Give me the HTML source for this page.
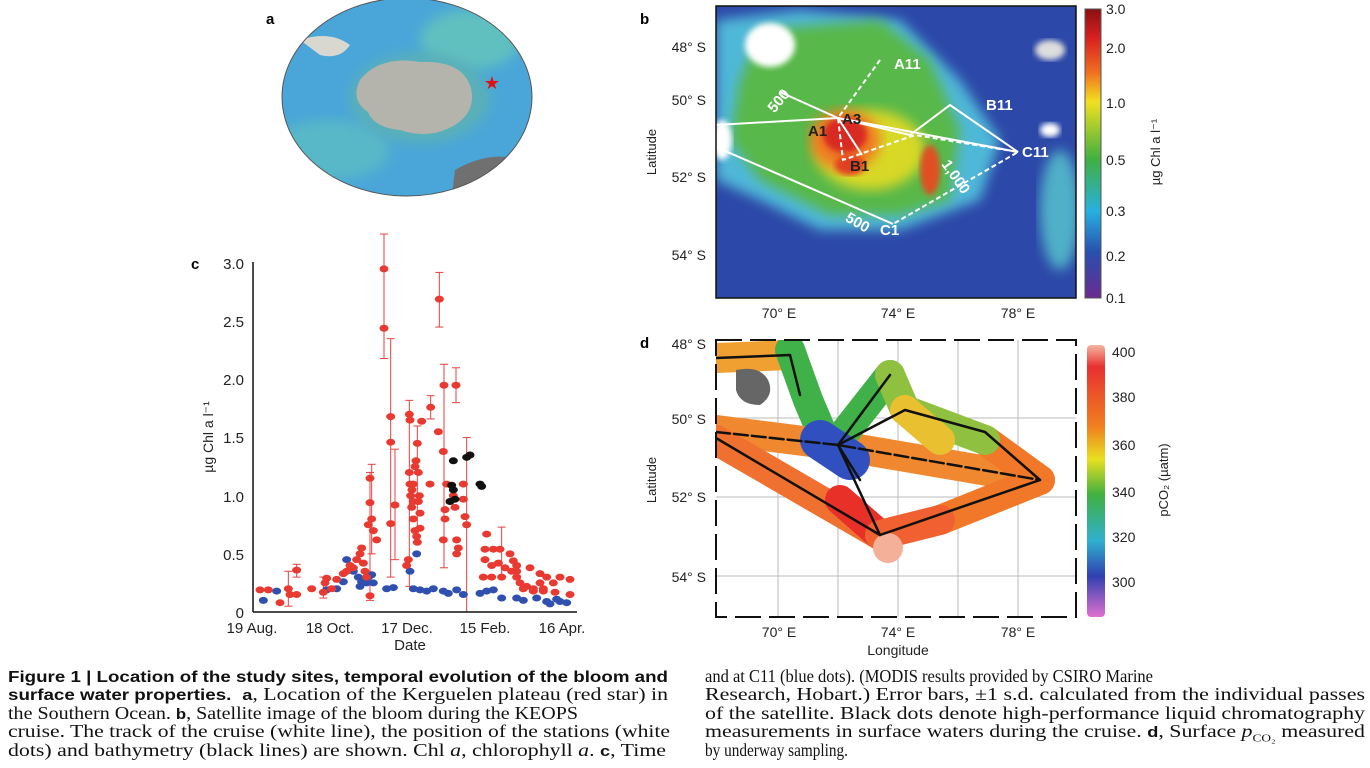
<!DOCTYPE html>
<html><head><meta charset="utf-8"><style>
body{margin:0;width:1370px;height:768px;background:#fff;position:relative;overflow:hidden;font-family:"Liberation Sans",sans-serif}
.l{position:absolute;white-space:nowrap;font-family:"Liberation Serif",serif;font-size:18px;color:#111;line-height:18px;transform-origin:0 0}
.b{font-family:"Liberation Sans",sans-serif;font-weight:bold;font-size:15.5px}
.k{font-family:"Liberation Sans",sans-serif;font-weight:bold;font-size:15px}
</style></head><body>
<svg id="s" width="1370" height="768" style="position:absolute;left:0;top:0" font-family="Liberation Sans, sans-serif">
<defs>
<filter id="bl"><feGaussianBlur stdDeviation="6"/></filter>
<filter id="bl2"><feGaussianBlur stdDeviation="3"/></filter>
<clipPath id="cb"><rect x="716" y="6" width="360" height="292"/></clipPath>
<clipPath id="cd"><rect x="716" y="340" width="360" height="277"/></clipPath>
<clipPath id="cg"><ellipse cx="407" cy="97" rx="125" ry="99"/></clipPath>
<linearGradient id="gb" x1="0" y1="0" x2="0" y2="1">
<stop offset="0" stop-color="#8a1010"/><stop offset="0.1" stop-color="#d82020"/><stop offset="0.22" stop-color="#f07020"/><stop offset="0.32" stop-color="#f2e020"/><stop offset="0.52" stop-color="#40b040"/><stop offset="0.7" stop-color="#28b0e0"/><stop offset="0.84" stop-color="#2850b0"/><stop offset="1" stop-color="#6a2a90"/></linearGradient>
<linearGradient id="gd" x1="0" y1="0" x2="0" y2="1">
<stop offset="0" stop-color="#f4b8a0"/><stop offset="0.08" stop-color="#e83030"/><stop offset="0.3" stop-color="#f08020"/><stop offset="0.42" stop-color="#e8e020"/><stop offset="0.55" stop-color="#40b040"/><stop offset="0.72" stop-color="#30b0d0"/><stop offset="0.85" stop-color="#3040b0"/><stop offset="1" stop-color="#e070d0"/></linearGradient>
</defs>
<text x="266" y="24" font-weight="bold" font-size="15">a</text>
<g clip-path="url(#cg)">
<rect x="270" y="-10" width="280" height="220" fill="#4aa6d8"/>
<ellipse cx="330" cy="150" rx="60" ry="30" fill="#58b8c8" filter="url(#bl)"/>
<ellipse cx="470" cy="40" rx="50" ry="30" fill="#60c0c0" filter="url(#bl)"/>
<ellipse cx="420" cy="98" rx="70" ry="45" fill="#5ab0b8" filter="url(#bl)"/>
<path d="M360 80 Q380 55 420 62 Q460 60 470 85 Q478 110 455 125 Q430 140 400 130 Q375 128 368 112 Q350 100 360 80Z" fill="#b4b4ac"/>
<path d="M300 40 Q330 30 350 45 Q340 60 320 55Z" fill="#d8d8d0"/>
<path d="M455 170 Q490 150 520 160 L540 210 L450 210Z" fill="#707070"/>
<path d="M270 0 L330 0 Q310 20 290 30 L270 40Z" fill="#909090"/>
</g>
<ellipse cx="407" cy="97" rx="125" ry="99" fill="none" stroke="#555" stroke-width="1"/>
<text x="492" y="89" fill="#e01010" font-size="18" text-anchor="middle">★</text>

<text x="640" y="24" font-weight="bold" font-size="15">b</text>
<g clip-path="url(#cb)">
<rect x="716" y="6" width="360" height="292" fill="#2c48a8"/>
<path d="M716 20 L800 10 L900 20 L960 80 L1000 140 L980 200 L900 230 L820 230 L760 200 L716 180Z" fill="#50b8d8" filter="url(#bl)"/>
<path d="M760 30 L880 20 L930 60 L960 130 L950 200 L900 215 L830 215 L760 180 L730 140 L740 80Z" fill="#58b848" filter="url(#bl)"/>
<ellipse cx="870" cy="150" rx="55" ry="40" fill="#d8d828" filter="url(#bl)"/>
<ellipse cx="845" cy="140" rx="35" ry="30" fill="#f07a20" filter="url(#bl)"/>
<ellipse cx="845" cy="135" rx="22" ry="18" fill="#d82a20" filter="url(#bl2)"/>
<ellipse cx="850" cy="165" rx="15" ry="10" fill="#e04020" filter="url(#bl2)"/>
<ellipse cx="930" cy="170" rx="10" ry="25" fill="#e05020" filter="url(#bl2)"/>
<ellipse cx="1060" cy="210" rx="20" ry="60" fill="#50b0c8" filter="url(#bl)"/>
<ellipse cx="770" cy="45" rx="25" ry="22" fill="#fff" filter="url(#bl2)"/>
<ellipse cx="722" cy="140" rx="10" ry="20" fill="#fff" filter="url(#bl2)"/>
<ellipse cx="1050" cy="50" rx="15" ry="10" fill="#ddd" filter="url(#bl2)"/>
<ellipse cx="1050" cy="130" rx="10" ry="7" fill="#fff" filter="url(#bl2)"/>
<g stroke="#fff" stroke-width="2" fill="none">
<polyline points="780,92 838,118 1018,152 950,105 910,135"/>
<polyline points="716,125 838,118 910,135"/>
<polyline points="716,147 893,224"/>
<polyline points="838,118 862,155"/>
<polyline points="880,60 838,118 843,160 915,135 1018,152 893,224" stroke-dasharray="5,3"/>
</g>
<g fill="#fff" font-weight="bold" font-size="15">
<text x="894" y="69">A11</text><text x="842" y="124" fill="#222">A3</text><text x="808" y="136" fill="#222">A1</text><text x="850" y="171" fill="#222">B1</text>
<text x="986" y="110">B11</text><text x="1022" y="157">C11</text><text x="880" y="235">C1</text>
<text x="768" y="110" transform="rotate(-50 775 105)">500</text>
<text x="845" y="226" transform="rotate(30 855 222)">500</text>
<text x="938" y="170" transform="rotate(55 945 170)">1,000</text>
</g>
</g>
<rect x="716" y="6" width="360" height="292" fill="none" stroke="#111" stroke-width="1.5"/>
<g font-size="14" fill="#222">
<text x="706" y="52" text-anchor="end">48° S</text><text x="706" y="105" text-anchor="end">50° S</text>
<text x="706" y="182" text-anchor="end">52° S</text><text x="706" y="260" text-anchor="end">54° S</text>
<text x="779" y="318" text-anchor="middle">70° E</text><text x="898" y="318" text-anchor="middle">74° E</text><text x="1018" y="318" text-anchor="middle">78° E</text>
<text x="656" y="152" text-anchor="middle" transform="rotate(-90 656 152)" font-size="13">Latitude</text>
</g>
<rect x="1085" y="9" width="16" height="289" fill="url(#gb)" stroke="#555"/>
<g font-size="14" fill="#222">
<text x="1106" y="14">3.0</text><text x="1106" y="53">2.0</text><text x="1106" y="108">1.0</text><text x="1106" y="165">0.5</text><text x="1106" y="216">0.3</text><text x="1106" y="261">0.2</text><text x="1106" y="303">0.1</text>
<text x="1160" y="152" text-anchor="middle" transform="rotate(-90 1160 152)" font-size="13">µg Chl a l⁻¹</text>
</g>

<text x="640" y="348" font-weight="bold" font-size="15">d</text>
<rect x="716" y="340" width="360" height="277" fill="#fff"/>
<g stroke="#bbb" stroke-width="1">
<line x1="778" y1="340" x2="778" y2="617"/><line x1="838" y1="340" x2="838" y2="617"/><line x1="898" y1="340" x2="898" y2="617"/><line x1="958" y1="340" x2="958" y2="617"/><line x1="1018" y1="340" x2="1018" y2="617"/>
<line x1="716" y1="418" x2="1076" y2="418"/><line x1="716" y1="497" x2="1076" y2="497"/><line x1="716" y1="576" x2="1076" y2="576"/>
</g>
<g clip-path="url(#cd)" fill="none" stroke-linecap="round" stroke-linejoin="round" stroke-width="30">
<polyline points="716,358 790,355" stroke="#f0a030"/>
<polyline points="790,350 808,400 825,440" stroke="#40b048"/>
<polyline points="716,430 835,445 1040,480" stroke="#f08830"/>
<polyline points="985,440 1040,480 940,520" stroke="#f07828"/>
<polyline points="716,440 880,535" stroke="#f07030"/>
<polyline points="840,500 880,535" stroke="#e83028"/>
<polyline points="880,535 940,520" stroke="#f06030"/>
<polyline points="890,375 835,445" stroke="#40b048"/>
<polyline points="890,375 905,410 985,440" stroke="#90c040"/>
<polyline points="905,410 940,440" stroke="#e8c030"/>
<polyline points="820,440 850,460" stroke="#3050c0" stroke-width="40"/>
<circle cx="888" cy="548" r="15" fill="#f4b098" stroke="none"/>
<path d="M736 370 Q760 365 768 380 Q775 395 760 405 Q740 405 736 390Z" fill="#666" stroke="none" stroke-width="0"/>
<g stroke="#111" stroke-width="2.5">
<polyline points="716,358 790,355 800,395"/>
<polyline points="890,375 838,445 880,535 1040,480 985,432 905,410 838,445"/>
<polyline points="716,432 838,445 1040,480" stroke-dasharray="14,4"/>
<polyline points="716,438 880,535"/>
<polyline points="838,445 860,480"/>
</g>
</g>
<rect x="716" y="340" width="360" height="277" fill="none" stroke="#111" stroke-width="2" stroke-dasharray="26,8"/>
<g font-size="14" fill="#222">
<text x="706" y="349" text-anchor="end">48° S</text><text x="706" y="424" text-anchor="end">50° S</text>
<text x="706" y="502" text-anchor="end">52° S</text><text x="706" y="582" text-anchor="end">54° S</text>
<text x="779" y="637" text-anchor="middle">70° E</text><text x="898" y="637" text-anchor="middle">74° E</text><text x="1018" y="637" text-anchor="middle">78° E</text>
<text x="898" y="655" text-anchor="middle">Longitude</text>
<text x="656" y="480" text-anchor="middle" transform="rotate(-90 656 480)" font-size="13">Latitude</text>
</g>
<rect x="1087" y="345" width="18" height="272" rx="4" fill="url(#gd)"/>
<g font-size="14" fill="#222">
<text x="1112" y="357">400</text><text x="1112" y="402">380</text><text x="1112" y="450">360</text><text x="1112" y="497">340</text><text x="1112" y="542">320</text><text x="1112" y="587">300</text>
<text x="1168" y="480" text-anchor="middle" transform="rotate(-90 1168 480)" font-size="13">pCO₂ (µatm)</text>
</g>

<text x="191" y="269" font-weight="bold" font-size="15">c</text>
<g id="c"></g>
<line x1="253" y1="262" x2="253" y2="612" stroke="#111" stroke-width="1.5"/>
<line x1="253" y1="612" x2="577" y2="612" stroke="#111" stroke-width="1.5"/>
<g font-size="15" fill="#222" text-anchor="end">
<text x="244" y="269">3.0</text><text x="244" y="327">2.5</text><text x="244" y="385">2.0</text><text x="244" y="443">1.5</text><text x="244" y="502">1.0</text><text x="244" y="560">0.5</text><text x="244" y="618">0</text>
</g>
<g font-size="15" fill="#222" text-anchor="middle">
<text x="252" y="633">19 Aug.</text><text x="330" y="633">18 Oct.</text><text x="407" y="633">17 Dec.</text><text x="485" y="633">15 Feb.</text><text x="562" y="633">16 Apr.</text>
<text x="410" y="650">Date</text>
<text x="213" y="437" transform="rotate(-90 213 437)" font-size="14">µg Chl a l⁻¹</text>
</g>
</svg>
<div class="l" data-w="660" style="left:8px;top:667px"><span class="b">Figure 1 | Location of the study sites, temporal evolution of the bloom and</span></div>
<div class="l" data-w="660" style="left:8px;top:685px"><span class="b">surface water properties.</span>&nbsp; <span class="k">a</span>, Location of the Kerguelen plateau (red star) in</div>
<div class="l" data-w="570" style="left:8px;top:704px">the Southern Ocean. <span class="k">b</span>, Satellite image of the bloom during the KEOPS</div>
<div class="l" data-w="662" style="left:8px;top:722px">cruise. The track of the cruise (white line), the position of the stations (white</div>
<div class="l" data-w="658" style="left:8px;top:741px">dots) and bathymetry (black lines) are shown. Chl <i>a</i>, chlorophyll <i>a</i>. <span class="k">c</span>, Time</div>
<div class="l" data-w="448" style="left:705px;top:667px">and at C11 (blue dots). (MODIS results provided by CSIRO Marine</div>
<div class="l" data-w="660" style="left:705px;top:685px">Research, Hobart.) Error bars, ±1 s.d. calculated from the individual passes</div>
<div class="l" data-w="660" style="left:705px;top:704px">of the satellite. Black dots denote high-performance liquid chromatography</div>
<div class="l" data-w="660" style="left:705px;top:722px">measurements in surface waters during the cruise. <span class="k">d</span>, Surface <i>p</i><sub style="font-size:11px;line-height:0">CO₂</sub> measured</div>
<div class="l" data-w="143" style="left:705px;top:741px">by underway sampling.</div>
<script>
document.querySelectorAll('.l').forEach(function(d){var w=d.getBoundingClientRect().width;var t=+d.getAttribute('data-w');d.style.transform='scaleX('+(t/w)+')'});
var g=document.getElementById('c'),ns='http://www.w3.org/2000/svg';
function X(z){return 180+z/3}function Y(v){return 612-v*116.3}
function el(t,a){var e=document.createElementNS(ns,t);for(var k in a)e.setAttribute(k,a[k]);g.appendChild(e)}
var eb=[[612,2.18,3.25],[632,0.3,2.35],[645,0.45,1.4],[778,2.45,2.92],[792,0.38,2.13],[828,1.8,2.1],[860,0,1.5],[575,0.5,1.27],[325,0.05,0.35],[350,0.3,0.41],[688,0.22,1.82],[752,1.66,1.86],[965,0.3,0.73],[430,0.12,0.3],[570,0.1,1.2],[712,0.6,1.6]];
eb.forEach(function(b){el('line',{x1:X(b[0]),x2:X(b[0]),y1:Y(b[1]),y2:Y(b[2]),stroke:'#e84040','stroke-width':1});
el('line',{x1:X(b[0])-4,x2:X(b[0])+4,y1:Y(b[1]),y2:Y(b[1]),stroke:'#e84040'});el('line',{x1:X(b[0])-4,x2:X(b[0])+4,y1:Y(b[2]),y2:Y(b[2]),stroke:'#e84040'})});
var blue=[[250,0.1],[290,0.18],[440,0.19],[470,0.2],[490,0.26],[500,0.45],[520,0.35],[535,0.3],[545,0.26],[560,0.25],[565,0.3],[575,0.32],[580,0.25],[540,0.22],[620,0.2],[640,0.21],[690,0.35],[710,0.5],[700,0.2],[720,0.19],[740,0.18],[760,0.2],[790,0.18],[805,0.16],[830,0.19],[850,0.15],[900,0.16],[920,0.18],[940,0.19],[965,0.12],[1010,0.12],[1030,0.1],[1070,0.12],[1100,0.09],[1130,0.11],[1160,0.08],[1140,0.09],[1110,0.07]];
var red=[[240,0.19],[265,0.19],[300,0.08],[325,0.2],[330,0.15],[350,0.36],[350,0.15],[395,0.2],[430,0.17],[435,0.25],[440,0.29],[455,0.2],[470,0.28],[490,0.33],[500,0.35],[510,0.4],[520,0.38],[530,0.45],[540,0.5],[545,0.55],[550,0.42],[555,0.35],[560,0.3],[565,0.75],[570,1.15],[570,0.94],[575,0.8],[570,0.14],[580,0.7],[590,0.62],[612,2.95],[612,2.44],[632,1.68],[632,1.46],[645,0.92],[632,0.76],[680,0.4],[685,0.45],[688,1.7],[690,1.65],[688,1.2],[690,1.1],[692,1.0],[695,0.9],[700,0.8],[705,0.7],[708,1.3],[712,1.45],[715,1.2],[718,1.0],[720,0.85],[710,0.65],[725,1.64],[712,0.6],[720,0.72],[750,1.1],[752,1.76],[778,2.69],[775,1.55],[790,1.38],[792,1.95],[800,1.1],[795,0.88],[795,0.8],[790,0.62],[828,1.95],[820,1.0],[825,0.9],[830,0.62],[835,0.55],[830,0.5],[850,1.1],[850,0.97],[855,0.82],[860,0.75],[920,0.67],[915,0.54],[940,0.54],[960,0.54],[990,0.5],[915,0.45],[935,0.4],[955,0.42],[975,0.38],[1000,0.44],[910,0.3],[935,0.3],[965,0.3],[1020,0.25],[1040,0.22],[1050,0.38],[1010,0.3],[1060,0.2],[1080,0.33],[1100,0.3],[1080,0.25],[1090,0.2],[1120,0.25],[1140,0.3],[1170,0.28],[1170,0.15],[1125,0.17],[1090,0.18],[1060,0.18],[1030,0.2],[1010,0.35],[995,0.35],[1010,0.4],[700,1.1],[705,1.25],[696,1.05],[715,0.95],[700,0.95]];
var blk=[[820,1.3],[815,1.09],[820,1.05],[810,0.95],[825,0.97],[860,1.33],[870,1.35],[905,1.08],[900,1.1]];
blue.forEach(function(p){el('ellipse',{cx:X(p[0]),cy:Y(p[1]),rx:4.5,ry:3.5,fill:'#3050b0'})});
red.forEach(function(p){el('ellipse',{cx:X(p[0]),cy:Y(p[1]),rx:4.5,ry:3.5,fill:'#e83a30'})});
blk.forEach(function(p){el('ellipse',{cx:X(p[0]),cy:Y(p[1]),rx:4.5,ry:3.5,fill:'#111'})});
</script>
</body></html>
